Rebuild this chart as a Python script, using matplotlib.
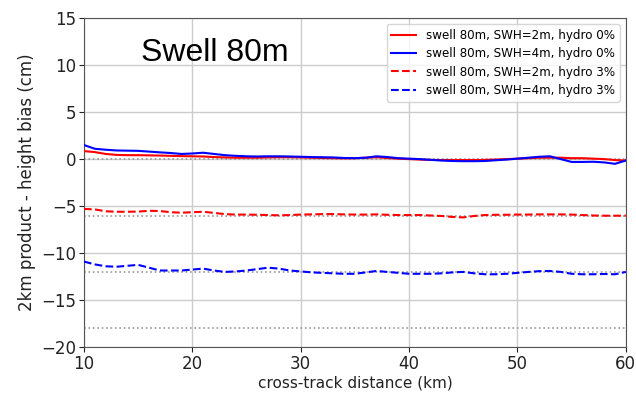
import numpy as np
import matplotlib.pyplot as plt

# cross-track distance (km)
dist = list(range(10, 61))

# height bias (cm), swell 80m
swh2_hydro0 = [0.85, 0.75, 0.55, 0.45, 0.42, 0.42, 0.40, 0.38, 0.35, 0.32,
               0.30, 0.28, 0.22, 0.18, 0.15, 0.15, 0.15, 0.18, 0.20, 0.20,
               0.18, 0.15, 0.12, 0.10, 0.08, 0.10, 0.15, 0.20, 0.12, 0.05,
               0.00, -0.05, -0.08, -0.10, -0.10, -0.10, -0.10, -0.08, -0.05, 0.00,
               0.05, 0.10, 0.15, 0.15, 0.15, 0.10, 0.10, 0.05, 0.00, -0.10,
               -0.15]
swh4_hydro0 = [1.50, 1.10, 1.00, 0.92, 0.90, 0.88, 0.80, 0.72, 0.65, 0.55,
               0.60, 0.68, 0.55, 0.42, 0.35, 0.30, 0.28, 0.30, 0.30, 0.28,
               0.25, 0.22, 0.20, 0.18, 0.12, 0.10, 0.15, 0.30, 0.22, 0.10,
               0.05, 0.00, -0.08, -0.15, -0.20, -0.22, -0.22, -0.20, -0.12, -0.05,
               0.05, 0.15, 0.25, 0.30, 0.00, -0.30, -0.30, -0.28, -0.35, -0.50,
               -0.15]
swh2_hydro3 = [-5.30, -5.35, -5.55, -5.60, -5.60, -5.58, -5.50, -5.52, -5.65, -5.70,
               -5.65, -5.60, -5.72, -5.85, -5.90, -5.90, -5.92, -5.95, -5.98, -5.95,
               -5.90, -5.88, -5.85, -5.85, -5.88, -5.90, -5.90, -5.88, -5.92, -5.95,
               -5.95, -5.95, -6.00, -6.05, -6.15, -6.20, -6.05, -5.95, -5.92, -5.92,
               -5.90, -5.90, -5.88, -5.88, -5.88, -5.90, -5.95, -6.00, -6.02, -6.02,
               -6.02]
swh4_hydro3 = [-10.90, -11.20, -11.40, -11.45, -11.35, -11.25, -11.55, -11.85, -11.85, -11.85,
               -11.75, -11.65, -11.85, -12.00, -11.95, -11.85, -11.70, -11.55, -11.65, -11.85,
               -11.95, -12.05, -12.10, -12.15, -12.20, -12.20, -12.05, -11.90, -12.00, -12.10,
               -12.20, -12.20, -12.20, -12.15, -12.05, -12.00, -12.15, -12.25, -12.25, -12.20,
               -12.10, -12.00, -11.92, -11.90, -12.00, -12.20, -12.25, -12.25, -12.22, -12.25,
               -12.00]

# expected offsets
ref_levels = [0, -6, -12, -18]

labels = ['swell 80m, SWH=2m, hydro 0%', 'swell 80m, SWH=4m, hydro 0%',
          'swell 80m, SWH=2m, hydro 3%', 'swell 80m, SWH=4m, hydro 3%']

fig = plt.figure(figsize=(6.36, 3.94), dpi=100)
ax = fig.add_axes([0.132, 0.119, 0.852, 0.835])

for lvl in ref_levels:
    ax.plot([dist[0], dist[-1]], [lvl, lvl], ':', color='#999999', lw=1.2, zorder=1)

ax.plot(dist, swh2_hydro0, '-', color='red', lw=1.5, label=labels[0], zorder=3)
ax.plot(dist, swh4_hydro0, '-', color='blue', lw=1.5, label=labels[1], zorder=3)
ax.plot(dist, swh2_hydro3, '--', color='red', lw=1.5, label=labels[2], zorder=3)
ax.plot(dist, swh4_hydro3, '--', color='blue', lw=1.5, label=labels[3], zorder=3)

ax.set_xlim(10, 60)
ax.set_ylim(-20, 15)
ax.set_xticks(range(10, 61, 10))
ax.set_yticks(range(-20, 16, 5))
ax.tick_params(labelsize=12, colors='#222222', pad=2)
ax.grid(True, color='#cccccc', lw=1.0)
ax.set_axisbelow(True)
for sp in ax.spines.values():
    sp.set_color('#555555')

ax.set_xlabel('cross-track distance (km)', fontsize=11, color='#222222', labelpad=2)
ax.set_ylabel('2km product - height bias (cm)', fontsize=12, color='#222222')

ax.text(0.105, 0.87, 'Swell 80m', transform=ax.transAxes, fontsize=23,
        family='Liberation Sans', color='black', zorder=4)

ax.legend(loc='upper right', fontsize=8.6, handlelength=2.1, framealpha=0.8,
          labelspacing=0.45, borderaxespad=0.5)

fig.savefig('out.png', dpi=100)
